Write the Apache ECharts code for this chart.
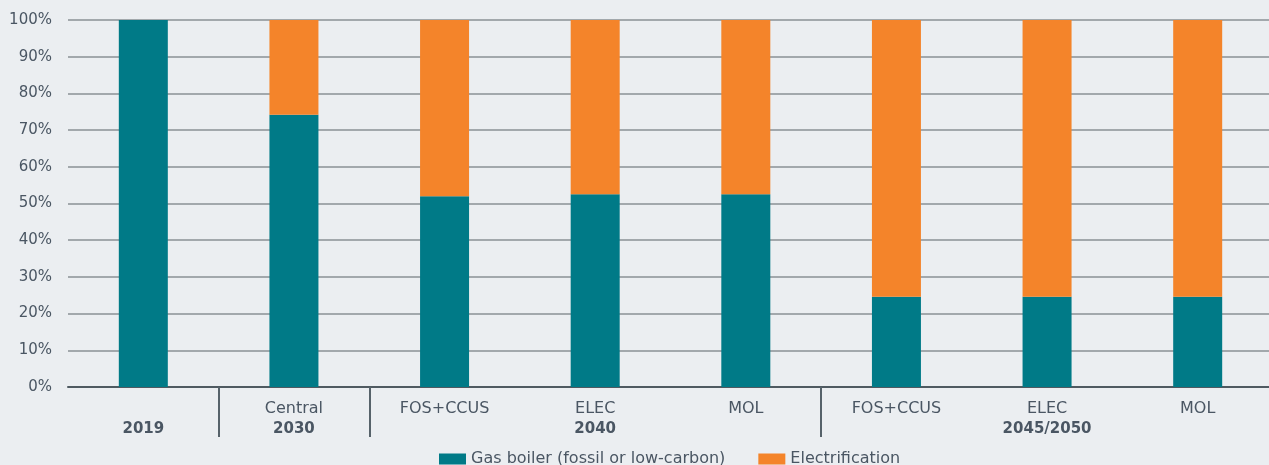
<!DOCTYPE html>
<html lang="en">
  <head>
    <meta charset="UTF-8">
    <title>Gas boiler vs electrification</title>
    <script src="https://cdn.jsdelivr.net/npm/echarts@6/dist/echarts.min.js"></script>
    <style>
      html, body { margin: 0; padding: 0; background: #ebeef1; overflow: hidden; }
      #chart { width: 1280px; height: 465px; }
    </style>
  </head>
  <body>
    <div id="chart"></div>
    <script>
      // category labels, two lines each (scenario / year)
      const topLabels = ['', 'Central', 'FOS+CCUS', 'ELEC', 'MOL', 'FOS+CCUS', 'ELEC', 'MOL']
      const bottomLabels = ['2019', '2030', '', '2040', '', '', '2045/2050', '']
      const gasBoiler = [100, 74.2, 52, 52.5, 52.5, 24.6, 24.6, 24.6]
      const electrification = [0, 25.8, 48, 47.5, 47.5, 75.4, 75.4, 75.4]
      const yTicks = [0, 10, 20, 30, 40, 50, 60, 70, 80, 90, 100]
      const groupStarts = [1, 2, 5] // separators before these categories

      const categories = topLabels.map((t, i) => t + '|' + bottomLabels[i])
      const textColor = '#4a5663'
      const fontFamily = '"DejaVu Sans", "Noto Sans", sans-serif'

      const chart = echarts.init(document.getElementById('chart'))
      chart.setOption({
        backgroundColor: '#ebeef1',
        textStyle: { fontFamily: fontFamily },
        animation: false,
        grid: { left: 68, top: 20, width: 1205, height: 367 },
        legend: {
          left: 439,
          top: 451,
          padding: 0,
          icon: 'rect',
          itemWidth: 27,
          itemHeight: 11,
          itemGap: 33,
          textStyle: { color: textColor, fontSize: 16, fontFamily: fontFamily },
          data: ['Gas boiler (fossil or low-carbon)', 'Electrification']
        },
        xAxis: {
          type: 'category',
          data: categories,
          axisLine: { lineStyle: { color: '#4f5a61', width: 2 } },
          axisTick: {
            show: true,
            length: 50,
            lineStyle: { color: '#56626a', width: 2 },
            interval: (index) => groupStarts.indexOf(index) >= 0
          },
          axisLabel: {
            margin: 12,
            interval: 0,
            formatter: (v) => {
              const parts = v.split('|')
              return '{a|' + (parts[0] || ' ') + '}\n{b|' + (parts[1] || ' ') + '}'
            },
            rich: {
              a: { color: textColor, fontSize: 16, lineHeight: 20, fontFamily: fontFamily },
              b: { color: textColor, fontSize: 15, lineHeight: 20, fontWeight: 'bold', fontFamily: fontFamily }
            }
          }
        },
        yAxis: {
          type: 'value',
          min: 0,
          max: 100,
          interval: 10,
          axisLine: { show: false },
          axisTick: { show: false },
          axisLabel: {
            color: textColor,
            fontSize: 15,
            margin: 16,
            formatter: (v) => (yTicks.indexOf(v) >= 0 ? v + '%' : '')
          },
          splitLine: { lineStyle: { color: '#a2a8ac', width: 2 } }
        },
        series: [
          {
            name: 'Gas boiler (fossil or low-carbon)',
            type: 'bar',
            stack: 'total',
            barWidth: 49,
            itemStyle: { color: '#007a87' },
            data: gasBoiler
          },
          {
            name: 'Electrification',
            type: 'bar',
            stack: 'total',
            barWidth: 49,
            itemStyle: { color: '#f4842a' },
            data: electrification
          }
        ]
      })
    </script>
  </body>
</html>
